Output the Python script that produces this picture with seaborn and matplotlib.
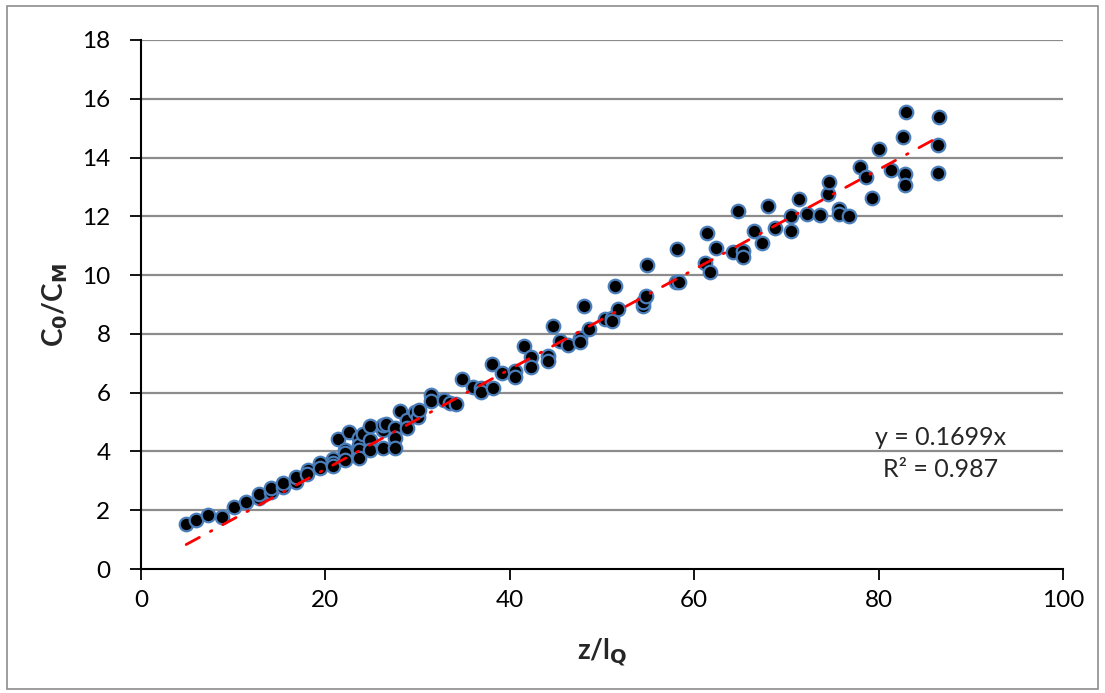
import matplotlib
matplotlib.use("Agg")
import matplotlib.pyplot as plt
import seaborn as sns
import pandas as pd
import numpy as np
from matplotlib.patches import Rectangle

# ---- data ----
z_lq = [4.9, 6.0, 7.3, 8.75, 10.1, 11.4, 12.8, 12.8, 14.1, 14.1, 15.4, 15.4, 16.8, 16.8,
        18.1, 18.0, 19.4, 19.4, 20.8, 20.8, 20.8, 21.4, 22.1, 22.1, 22.1, 22.6,
        23.6, 23.6, 23.6, 23.6, 24.1, 24.8, 24.8, 24.8, 26.3, 26.3, 26.3, 26.6,
        27.5, 27.5, 27.5, 28.1, 28.9, 28.9, 29.7, 30.0, 30.2, 31.5, 31.5, 32.9,
        33.5, 34.2, 34.8, 36.0, 36.9, 36.9, 38.1, 38.2, 39.2, 40.6, 40.6, 41.5,
        42.3, 42.3, 44.1, 44.1, 44.7, 45.4, 46.3, 47.6, 47.6, 48.0, 48.6, 50.3,
        51.1, 51.1, 51.4, 51.7, 54.4, 54.4, 54.8, 54.9, 58.0, 58.4, 58.1, 61.2,
        61.4, 61.7, 62.4, 64.2, 64.7, 65.3, 65.3, 66.5, 67.4, 68.0, 68.8, 70.5,
        70.5, 71.4, 72.2, 73.6, 74.5, 74.6, 75.7, 75.7, 76.8, 78.0, 78.6, 79.3,
        80.0, 81.3, 82.6, 83.0, 82.9, 82.9, 86.6, 86.4, 86.4]
c0_cm = [1.53, 1.67, 1.83, 1.77, 2.11, 2.29, 2.42, 2.55, 2.61, 2.77, 2.78, 2.94, 2.97, 3.12,
         3.37, 3.22, 3.60, 3.43, 3.75, 3.60, 3.50, 4.41, 4.05, 3.94, 3.71, 4.65,
         4.47, 4.22, 4.05, 3.77, 4.59, 4.85, 4.39, 4.05, 4.73, 4.90, 4.13, 4.93,
         4.79, 4.45, 4.13, 5.38, 5.07, 4.79, 5.35, 5.18, 5.41, 5.92, 5.73, 5.75,
         5.64, 5.61, 6.45, 6.20, 6.17, 6.03, 6.96, 6.15, 6.66, 6.75, 6.54, 7.60,
         7.22, 6.86, 7.25, 7.09, 8.27, 7.76, 7.62, 7.85, 7.73, 8.96, 8.17, 8.51,
         8.53, 8.44, 9.64, 8.84, 8.95, 9.10, 9.29, 10.34, 9.75, 9.78, 10.88, 10.40,
         11.42, 10.10, 10.91, 10.78, 12.19, 10.82, 10.63, 11.51, 11.08, 12.35, 11.61, 12.01,
         11.51, 12.58, 12.07, 12.05, 12.76, 13.18, 12.24, 12.08, 12.01, 13.69, 13.35, 12.61,
         14.29, 13.58, 14.69, 15.56, 13.43, 13.07, 15.37, 14.43, 13.46]
slope = 0.1699
r2 = 0.987
x_ticks = [0, 20, 40, 60, 80, 100]
y_ticks = [0, 2, 4, 6, 8, 10, 12, 14, 16, 18]

sns.set_theme(style="white")
plt.rcParams["font.family"] = ["Lato", "DejaVu Sans"]
plt.rcParams["mathtext.fontset"] = "dejavusans"

fig = plt.figure(figsize=(11.05, 6.93), dpi=100)
fig.patch.set_facecolor("white")
ax = fig.add_axes([141/1105, 1-569/693, (1063-141)/1105, (569-40)/693])

# outer chart border
fig.patches.append(Rectangle((7/1105, 4/693), 1091/1105, 683/693, transform=fig.transFigure,
                             fill=False, edgecolor="#8c8c8c", linewidth=1.2, zorder=0))

df = pd.DataFrame({"x": z_lq, "y": c0_cm})
xs = np.array([min(z_lq), max(z_lq)])
trend = pd.DataFrame({"x": xs, "y": slope * xs})

for yt in y_ticks[1:]:
    ax.axhline(yt, color="#8c8c8c", linewidth=1.6, zorder=0)

sns.scatterplot(data=df, x="x", y="y", ax=ax, color="black", edgecolor="#4a7ebb",
                s=95, linewidth=1.6, zorder=3, legend=False)
sns.lineplot(data=trend, x="x", y="y", ax=ax, color="#ff0000", linewidth=2.0,
             zorder=4, legend=False)
ax.lines[-1].set_linestyle((0, (5.4, 4.5, 0.6, 4.5)))
ax.lines[-1].set_dash_capstyle("round")

ax.set_xlim(0, 100)
ax.set_ylim(0, 18)
ax.set_xticks(x_ticks)
ax.set_yticks(y_ticks)
ax.tick_params(axis="both", direction="out", length=8, width=1.3, color="black",
               labelsize=17.5, labelcolor="black")
ax.tick_params(axis="x", bottom=True, pad=7)
ax.tick_params(axis="y", left=True, pad=14)
for side in ["top", "right"]:
    ax.spines[side].set_visible(False)
for side in ["left", "bottom"]:
    ax.spines[side].set_color("black")
    ax.spines[side].set_linewidth(1.5)

ax.set_xlabel(r"z/l$_\mathbf{Q}$", fontsize=20, fontweight="bold", labelpad=18)
ax.set_ylabel(r"C$_\mathbf{0}$/C$_\mathbf{M}$", fontsize=20, fontweight="bold", labelpad=9)

ax.text(86.7, 4.49, f"y = {slope}x", fontsize=18, ha="center", va="center")
ax.text(86.7, 3.37, f"R² = {r2}", fontsize=18, ha="center", va="center")

fig.savefig("out.png", dpi=100, facecolor="white")
